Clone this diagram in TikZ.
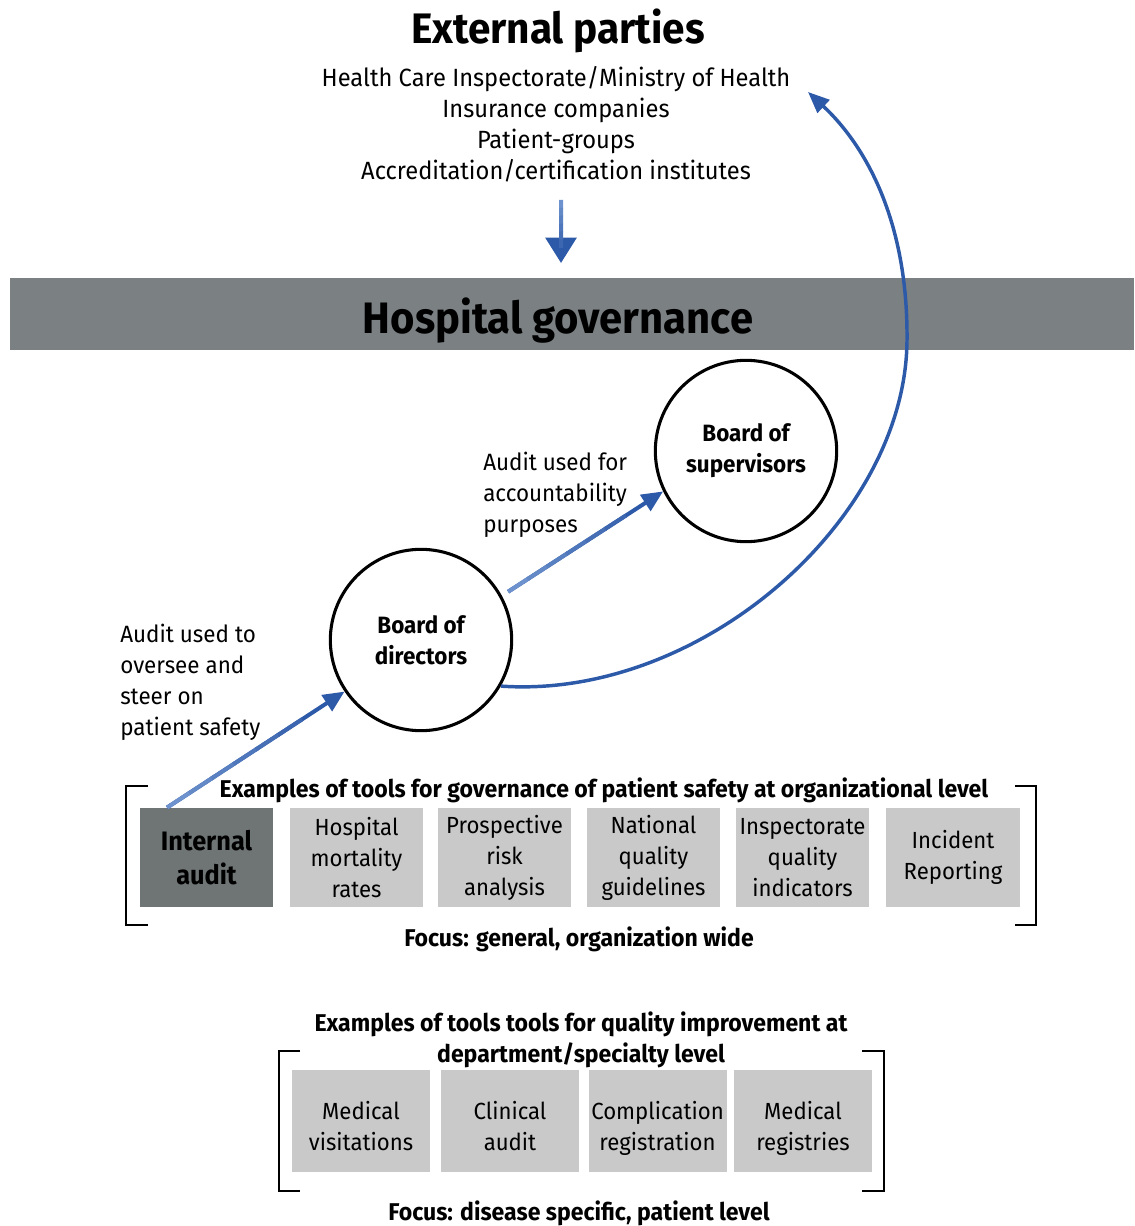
\documentclass[tikz,border=0pt]{standalone}
\usepackage{fontspec}
\setmainfont{Fira Sans}[FakeStretch=0.95]
\usetikzlibrary{arrows.meta,calc}
\definecolor{bandgray}{HTML}{7B8082}
\definecolor{darkbox}{HTML}{6F7475}
\definecolor{lightbox}{HTML}{C9C9C9}
\definecolor{arrowblue}{HTML}{2D5AA8}
\definecolor{paleblue}{HTML}{8FB0E0}
\tikzset{
  tool/.style={fill=lightbox, minimum width=100pt, minimum height=74.5pt, inner sep=0pt, align=center, font=\fontsize{17.5}{23.25}\selectfont},
  tooltwo/.style={tool, minimum width=103.5pt, minimum height=76.5pt},
  board/.style={circle, draw=black, line width=2.3pt, minimum size=136pt, inner sep=0pt, align=center, font=\bfseries\fontsize{17.7}{23.25}\selectfont},
  sidelabel/.style={anchor=north west, inner sep=0pt, align=left, font=\fontsize{17.7}{23.25}\selectfont},
  listline/.style={anchor=base, inner sep=0pt, font=\fontsize{18.7}{23.25}\selectfont},
  sectitle/.style={anchor=base, inner sep=0pt, align=center, font=\bfseries\fontsize{18.2}{23.25}\selectfont},
  bluearrow/.style={draw=arrowblue, line width=3pt, -{Triangle[length=16pt,width=14pt]}},
  bracket/.style={draw=black, line width=2.2pt},
}
\newcommand{\fadetail}[2]{%
  \foreach \i/\c in {0/35,1/45,2/55,3/65,4/75,5/85}{%
    \draw[line width=3pt, arrowblue!\c!paleblue] ($(#1)!{\i/8}!(#2)$) -- ($(#1)!{(\i+1)/8+0.01}!(#2)$);
  }%
}
\newcommand{\lowtext}[2]{\raisebox{-#1}[\height][\depth]{\begin{tabular}{@{}c@{}}#2\end{tabular}}}
\begin{document}
\begin{tikzpicture}[x=0.75pt,y=-0.75pt]
\useasboundingbox (0,0) rectangle (1134,1226);
% external parties
\node[anchor=base, inner sep=0pt, font=\bfseries\fontsize{32}{40}\selectfont] (ext) at (558,44) {External parties};
\node[listline] (l1) at (556,87) {Health Care Inspectorate/Ministry of Health};
\node[listline] (l2) at (556,118) {Insurance companies};
\node[listline] (l3) at (556,149) {Patient-groups};
\node[listline] (l4) at (556,180) {Accreditation/certification institutes};
\coordinate (downstart) at (561,200);
\coordinate (downend) at (561,263);
\draw[bluearrow, -{Triangle[length=19pt,width=23pt]}] (downstart) -- (downend);
\fadetail{downstart}{downend}
% band
\node[fill=bandgray, minimum width=843pt, minimum height=53.5pt, inner sep=0pt, anchor=north west] (band) at (10,278) {};
\node[anchor=base, inner sep=0pt, font=\bfseries\fontsize{33}{40}\selectfont] (hg) at (558,334) {Hospital governance};
% boards
\node[board] (bod) at (421,640) {Board of\\directors};
\node[board] (bos) at (746,451) {Board of\\supervisors};
\node[sidelabel] (lab1) at (120,624) {Audit used to\\oversee and\\steer on\\patient safety};
\node[sidelabel] (lab2) at (483,452) {Audit used for\\accountability\\purposes};
% tools row 1
\node[sectitle] (t1) at (604,797) {Examples of tools for governance of patient safety at organizational level};
\node[tool, fill=darkbox, font=\bfseries\fontsize{20}{25}\selectfont] (ia) at (206.5,857.5) {Internal\\audit};
\node[tool] (hm) at (356.5,857.5) {Hospital\\mortality\\rates};
\node[tool] (pr) at (504.5,857.5) {Prospective\\risk\\analysis};
\node[tool] (nq) at (653.5,857.5) {National\\quality\\guidelines};
\node[tool] (iq) at (802.5,857.5) {Inspectorate\\quality\\indicators};
\node[tool] (ir) at (953,857.5) {Incident\\Reporting};
\draw[bracket] (148,786) -- (126,786) -- (126,925) -- (148,925);
\draw[bracket] (1015,786) -- (1036,786) -- (1036,925) -- (1015,925);
\node[sectitle] (f1) at (579,946) {Focus: general, organization wide};
% tools row 2
\node[sectitle] (t2) at (581,1031) {Examples of tools tools for quality improvement at};
\node[sectitle] (t2b) at (581,1062) {department/specialty level};
\node[tooltwo] (mv) at (361,1121) {\lowtext{6pt}{Medical\\visitations}};
\node[tooltwo] (ca) at (510,1121) {\lowtext{6pt}{Clinical\\audit}};
\node[tooltwo] (cr) at (657.5,1121) {\lowtext{6pt}{Complication\\registration}};
\node[tooltwo] (mr) at (803,1121) {\lowtext{6pt}{Medical\\registries}};
\draw[bracket] (300,1051) -- (279,1051) -- (279,1191) -- (300,1191);
\draw[bracket] (862,1051) -- (884,1051) -- (884,1191) -- (862,1191);
\node[sectitle] (f2) at (579,1220) {Focus: disease specific, patient level};
% arrows
\coordinate (a1s) at ([xshift=-29.6pt]ia.north);
\coordinate (a1e) at (bod.214);
\draw[bluearrow] (a1s) -- (a1e);
\fadetail{a1s}{a1e}
\coordinate (a2s) at ($(bod.center)!1.08!(bod.29)$);
\coordinate (a2e) at (bos.206);
\draw[bluearrow] (a2s) -- (a2e);
\fadetail{a2s}{a2e}
\coordinate (curveend) at (808,92);
\draw[arrowblue, line width=2.6pt, -{Triangle[length=16pt,width=13pt]}] (bod.-30) .. controls (700,700) and (906,520) .. (907,340) .. controls (908,220) and (865,145) .. (curveend);
\end{tikzpicture}
\end{document}
